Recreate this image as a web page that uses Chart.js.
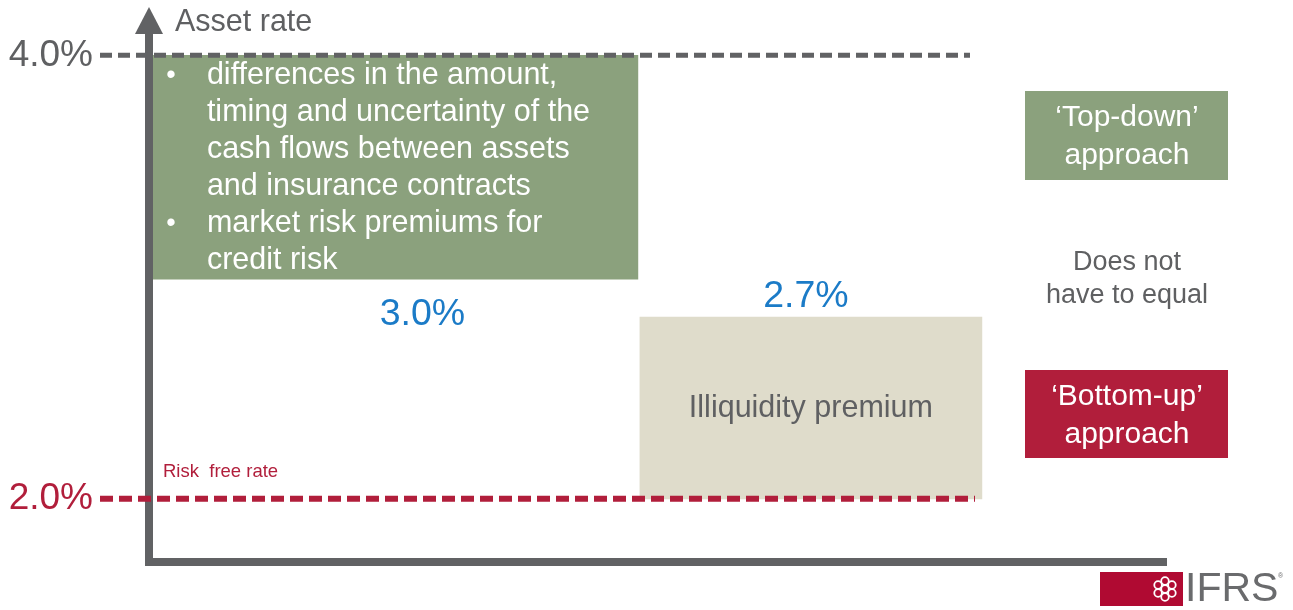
<!DOCTYPE html>
<html>
<head>
<meta charset="utf-8">
<script src="https://cdn.jsdelivr.net/npm/chart.js@4/dist/chart.umd.min.js"></script>
<style>
  html, body { margin: 0; padding: 0; background: #fff; }
  #wrap { width: 1293px; height: 610px; }
</style>
</head>
<body>
<div id="wrap"><canvas id="rates" width="1293" height="610"></canvas></div>
<script>
// ── data ──
const categories = ['Asset spread components', 'Illiquidity premium'];
const lowValues = [2.99, 2.0];
const highValues = [4.0, 2.82];
const rateLabels = ['3.0%', '2.7%'];
const yTicks = [2.0, 4.0];
const riskFreeRate = 2.0;
const assetRate = 4.0;

const bulletLines = [
    ['differences in the amount,', 'timing and uncertainty of the', 'cash flows between assets', 'and insurance contracts'],
    ['market risk premiums for', 'credit risk']
];

// ── colours ──
const GREEN = '#8ba17d', BEIGE = '#dfdccb', RED = '#b11e3b', GRAY = '#5f6062', AXIS = '#616264', BLUE = '#1b7bc7';
const FONT = '"Liberation Sans", Arial, sans-serif';

function txt(ctx, s, x, y, size, color, align) {
    ctx.font = size + 'px ' + FONT;
    ctx.fillStyle = color;
    ctx.textAlign = align || 'center';
    ctx.textBaseline = 'middle';
    ctx.fillText(s, x, y);
}

const diagram = {
    id: 'diagram',
    afterDatasetsDraw(chart) {
        const {ctx, chartArea: a, scales: {y}} = chart;
        ctx.save();

        // axes
        ctx.fillStyle = AXIS;
        ctx.fillRect(a.left - 4, 32, 8, a.bottom - 28);
        ctx.fillRect(a.left - 4, a.bottom - 4, a.right - a.left + 4, 8);
        ctx.beginPath();
        ctx.moveTo(a.left, 7);
        ctx.lineTo(a.left + 14, 34);
        ctx.lineTo(a.left - 14, 34);
        ctx.closePath();
        ctx.fill();

        // dashed reference lines
        ctx.lineWidth = 5;
        ctx.strokeStyle = AXIS;
        ctx.setLineDash([12, 6]);
        ctx.beginPath();
        ctx.moveTo(100, y.getPixelForValue(assetRate));
        ctx.lineTo(970, y.getPixelForValue(assetRate));
        ctx.stroke();
        ctx.lineWidth = 6;
        ctx.strokeStyle = RED;
        ctx.setLineDash([13, 6]);
        ctx.beginPath();
        ctx.moveTo(100, y.getPixelForValue(riskFreeRate));
        ctx.lineTo(975, y.getPixelForValue(riskFreeRate));
        ctx.stroke();
        ctx.setLineDash([]);

        txt(ctx, 'Asset rate', a.left + 26, 23, 30.5, GRAY, 'left');
        txt(ctx, 'Risk  free rate', a.left + 14, y.getPixelForValue(riskFreeRate) - 27, 18.5, RED, 'left');

        // bar texts
        const g = chart.getDatasetMeta(0).data[0];
        const b = chart.getDatasetMeta(1).data[0];
        const gl = g.x - g.width / 2;
        let ly = g.y + 20;
        bulletLines.forEach(group => {
            group.forEach((line, i) => {
                if (i === 0) txt(ctx, '•', gl + 18, ly, 27, '#fff');
                txt(ctx, line, gl + 54, ly, 30.5, '#fff', 'left');
                ly += 37;
            });
        });
        txt(ctx, rateLabels[0], g.x + 27, g.base + 35, 37.5, BLUE);
        txt(ctx, rateLabels[1], b.x - 5, b.y - 20, 37.5, BLUE);
        txt(ctx, 'Illiquidity premium', b.x, (b.y + b.base) / 2 + 1, 30.5, GRAY);

        // right side boxes
        ctx.fillStyle = GREEN;
        ctx.fillRect(1025, 91, 203, 89);
        txt(ctx, '\u2018Top-down\u2019', 1127, 118, 30, '#fff');
        txt(ctx, 'approach', 1127, 156, 30, '#fff');
        txt(ctx, 'Does not', 1127, 263, 27, GRAY);
        txt(ctx, 'have to equal', 1127, 296, 27, GRAY);
        ctx.fillStyle = RED;
        ctx.fillRect(1025, 370, 203, 88);
        txt(ctx, '\u2018Bottom-up\u2019', 1127, 397, 30, '#fff');
        txt(ctx, 'approach', 1127, 435, 30, '#fff');

        // logo
        ctx.fillStyle = '#b00a32';
        ctx.fillRect(1100, 572, 83, 34);
        ctx.strokeStyle = '#fff';
        ctx.lineWidth = 1.8;
        const cx = 1165, cy = 589;
        for (let k = 0; k < 7; k++) {
            const ang = k * Math.PI / 3 + Math.PI / 6;
            const px = k === 6 ? cx : cx + 8 * Math.cos(ang);
            const py = k === 6 ? cy : cy + 8 * Math.sin(ang);
            ctx.beginPath();
            ctx.arc(px, py, 3.8, 0, Math.PI * 2);
            ctx.stroke();
        }
        txt(ctx, 'IFRS', 1185, 590, 41, '#6a6b6d', 'left');
        txt(ctx, '®', 1278, 576, 7, '#6a6b6d', 'left');
        ctx.restore();
    }
};

new Chart(document.getElementById('rates'), {
    type: 'bar',
    data: {
        datasets: [
            {label: categories[0], data: [{x: 0, y: [lowValues[0], highValues[0]]}], backgroundColor: GREEN, barThickness: 485, grouped: false},
            {label: categories[1], data: [{x: 1, y: [lowValues[1], highValues[1]]}], backgroundColor: BEIGE, barThickness: 342, grouped: false}
        ]
    },
    options: {
        responsive: false,
        animation: false,
        layout: {padding: {top: 11, right: 126, bottom: 48, left: 0}},
        plugins: {legend: {display: false}, tooltip: {enabled: false}},
        scales: {
            x: {type: 'linear', display: false, offset: false, min: -0.593, max: 1.857},
            y: {
                min: 1.715, max: 4.2,
                afterBuildTicks: s => { s.ticks = yTicks.map(v => ({value: v})); },
                afterFit: s => { s.width = 149; s.paddingTop = 0; s.paddingBottom = 0; },
                grid: {display: false, drawTicks: false},
                border: {display: false},
                ticks: {
                    padding: 56,
                    autoSkip: false,
                    color: c => c.tick.value === riskFreeRate ? RED : GRAY,
                    font: {family: FONT, size: 37},
                    callback: v => v.toFixed(1) + '%'
                }
            }
        }
    },
    plugins: [diagram]
});
</script>
</body>
</html>
